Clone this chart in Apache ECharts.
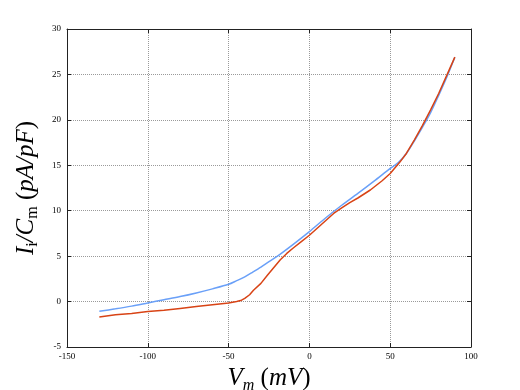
<!DOCTYPE html>
<html>
<head>
<meta charset="utf-8">
<script src="https://cdn.jsdelivr.net/npm/echarts@6/dist/echarts.min.js"></script>
<style>html,body{margin:0;padding:0;background:#fff}#c{width:520px;height:390px}</style>
</head>
<body>
<div id="c"></div>
<script>
const xTicks = [-150, -100, -50, 0, 50, 100];
const yTicks = [-5, 0, 5, 10, 15, 20, 25, 30];

const blueV = [-130, -120, -110, -100, -90, -80, -70, -60, -50, -45, -40, -35, -30, -25, -20, -10, 0, 10, 20, 30, 40, 50, 55, 60, 65, 70, 75, 80, 85, 90];
const blueI = [-1.07, -0.8, -0.5, -0.15, 0.2, 0.55, 0.95, 1.4, 1.9, 2.3, 2.72, 3.25, 3.8, 4.4, 4.97, 6.3, 7.7, 9.2, 10.6, 11.9, 13.25, 14.65, 15.3, 16.3, 17.7, 19.2, 20.8, 22.7, 24.7, 26.9];

const redV = [-130, -120, -110, -100, -90, -80, -70, -60, -50, -45, -42, -40, -37, -34.6, -30, -26, -22, -18, -14, -10, -5, 0, 5, 10, 15, 20, 25, 30, 37.7, 45, 50, 56, 60, 65, 70, 75, 80, 85, 90];
const redI = [-1.7, -1.45, -1.3, -1.1, -0.95, -0.75, -0.55, -0.35, -0.15, 0.0, 0.15, 0.35, 0.75, 1.25, 2.0, 2.9, 3.75, 4.6, 5.3, 5.9, 6.6, 7.3, 8.1, 8.9, 9.7, 10.3, 10.9, 11.4, 12.28, 13.3, 14.1, 15.35, 16.3, 17.8, 19.4, 21.1, 22.9, 24.9, 26.9];

const pairs = (xs, ys) => xs.map((x, i) => [x, ys[i]]);

const serif = 'Liberation Serif';
const nameRich = {
  i: {fontFamily: serif, fontStyle: 'italic', fontSize: 25, lineHeight: 30, verticalAlign: 'middle', color: '#000'},
  r: {fontFamily: serif, fontSize: 25, lineHeight: 30, verticalAlign: 'middle', color: '#000'},
  s: {fontFamily: serif, fontSize: 16, lineHeight: 12, verticalAlign: 'bottom', color: '#000'},
  si: {fontFamily: serif, fontStyle: 'italic', fontSize: 16, lineHeight: 12, verticalAlign: 'bottom', color: '#000'}
};

const tickLabel = {fontFamily: serif, fontSize: 9, color: '#000'};
const axisLine = {show: true, onZero: false, lineStyle: {color: '#222', width: 1}};
const tick = {show: true, inside: true, length: 4, lineStyle: {color: '#222'}};
const split = {show: true, lineStyle: {color: '#9a9a9a', type: 'dotted', width: 1}};

const chart = echarts.init(document.getElementById('c'), null, {renderer: 'canvas'});
chart.setOption({
  animation: false,
  backgroundColor: '#fff',
  grid: {left: 67, right: 49, top: 29, bottom: 43, containLabel: false, outerBoundsMode: 'none'},
  xAxis: [{
    type: 'value', min: xTicks[0], max: xTicks[xTicks.length - 1], interval: 50,
    axisLine, axisTick: tick, splitLine: split,
    axisLabel: Object.assign({margin: 5}, tickLabel),
    name: '{i|V}{si|m}{r| (}{i|mV}{r|)}',
    nameLocation: 'middle', nameGap: 8,
    nameTextStyle: {rich: nameRich}
  }, {
    type: 'value', position: 'top', min: xTicks[0], max: xTicks[xTicks.length - 1], interval: 50,
    axisLine, axisTick: tick, splitLine: {show: false}, axisLabel: {show: false}
  }],
  yAxis: [{
    type: 'value', min: yTicks[0], max: yTicks[yTicks.length - 1], interval: 5,
    axisLine, axisTick: tick, splitLine: split,
    axisLabel: Object.assign({margin: 6}, tickLabel),
    name: '{i|I}{s|i}{i|/C}{s|m}{r| (}{i|pA/pF}{r|)}',
    nameLocation: 'middle', nameGap: 15, nameRotate: 90,
    nameTextStyle: {rich: nameRich}
  }, {
    type: 'value', position: 'right', min: yTicks[0], max: yTicks[yTicks.length - 1], interval: 5,
    axisLine, axisTick: tick, splitLine: {show: false}, axisLabel: {show: false}
  }],
  series: [{
    type: 'line', xAxisIndex: 0, yAxisIndex: 0,
    data: pairs(blueV, blueI), showSymbol: false, smooth: 0.3,
    lineStyle: {color: '#6aa0f8', width: 1.5}
  }, {
    type: 'line', xAxisIndex: 0, yAxisIndex: 0,
    data: pairs(redV, redI), showSymbol: false, smooth: false,
    lineStyle: {color: '#d84315', width: 1.5}
  }]
});
</script>
</body>
</html>
